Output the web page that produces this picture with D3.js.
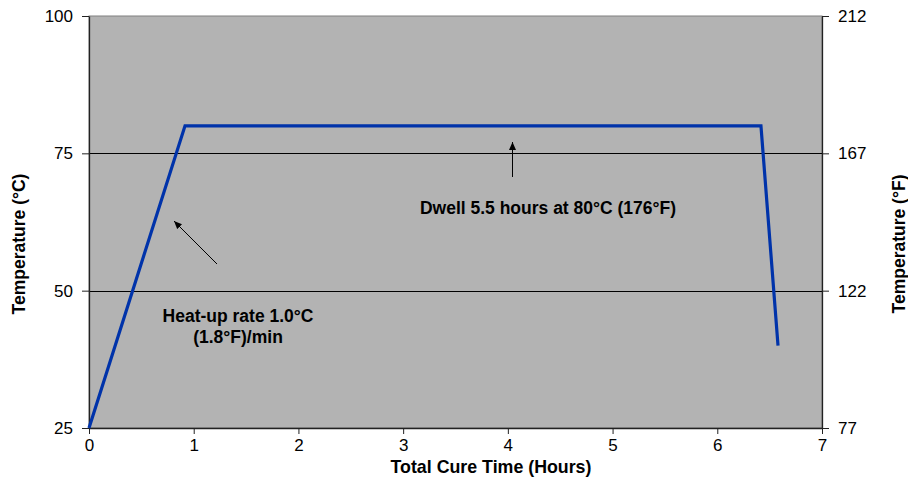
<!DOCTYPE html>
<html>
<head>
<meta charset="utf-8">
<script src="https://cdn.jsdelivr.net/npm/d3@7"></script>
<style>
  body { margin: 0; background: #fff; }
  svg { display: block; font-family: "Liberation Sans", Arial, sans-serif; }
</style>
</head>
<body>
<div id="chart"></div>
<script>
// cure profile: hours vs °C
const cureHours = [0, 0.917, 6.417, 6.58];
const cureTempC = [25, 80, 80, 40];
const xTicks = [0, 1, 2, 3, 4, 5, 6, 7];
const cTicks = [25, 50, 75, 100];
const fTicks = [77, 122, 167, 212];
const gridLines = [50, 75];

const width = 908, height = 477;
const margin = { top: 16, right: 86, bottom: 49, left: 89 };

const svg = d3.select("#chart").append("svg")
    .attr("width", width)
    .attr("height", height);

const x = d3.scaleLinear().domain([0, 7]).range([margin.left, width - margin.right]);
const y = d3.scaleLinear().domain([25, 100]).range([height - margin.bottom, margin.top]);
const yF = d3.scaleLinear().domain([77, 212]).range([height - margin.bottom, margin.top]);

// plot area
svg.append("rect")
    .attr("x", x(0))
    .attr("y", y(100))
    .attr("width", x(7) - x(0))
    .attr("height", y(25) - y(100))
    .attr("fill", "#b3b3b3")
    .attr("stroke", "#808080")
    .attr("stroke-width", 1);

// horizontal gridlines
svg.selectAll("line.grid")
    .data(gridLines)
    .enter().append("line")
    .attr("class", "grid")
    .attr("x1", x(0))
    .attr("x2", x(7))
    .attr("y1", d => Math.round(y(d)) + 0.5)
    .attr("y2", d => Math.round(y(d)) + 0.5)
    .attr("stroke", "#000")
    .attr("stroke-width", 1);

// axes
const styleAxis = g => {
    g.selectAll("path.domain").attr("stroke", "#222").attr("stroke-width", 1.3);
    g.selectAll(".tick line").attr("stroke", "#222");
    g.selectAll(".tick text")
        .attr("font-size", 17)
        .attr("fill", "#000")
        .attr("font-family", "Liberation Sans, Arial, sans-serif");
};

svg.append("g")
    .attr("transform", `translate(0,${y(25)})`)
    .call(d3.axisBottom(x).tickValues(xTicks).tickFormat(d3.format("d"))
        .tickSize(6).tickSizeOuter(0).tickPadding(5))
    .call(styleAxis);

svg.append("g")
    .attr("transform", `translate(${x(0)},0)`)
    .call(d3.axisLeft(y).tickValues(cTicks).tickSize(7).tickSizeOuter(0).tickPadding(9))
    .call(styleAxis);

svg.append("g")
    .attr("transform", `translate(${x(7)},0)`)
    .call(d3.axisRight(yF).tickValues(fTicks).tickSize(7).tickSizeOuter(0).tickPadding(9))
    .call(styleAxis);

// axis titles
svg.append("text")
    .attr("x", 491)
    .attr("y", 473)
    .attr("text-anchor", "middle")
    .attr("font-size", 17.8)
    .attr("font-weight", "bold")
    .text("Total Cure Time (Hours)");

svg.append("text")
    .attr("transform", `translate(25,244) rotate(-90)`)
    .attr("text-anchor", "middle")
    .attr("font-size", 17.5)
    .attr("font-weight", "bold")
    .text("Temperature (°C)");

svg.append("text")
    .attr("transform", `translate(905,244) rotate(-90)`)
    .attr("text-anchor", "middle")
    .attr("font-size", 17.5)
    .attr("font-weight", "bold")
    .text("Temperature (°F)");

// cure line
const line = d3.line()
    .x((d, i) => x(cureHours[i]))
    .y(d => y(d));

svg.append("path")
    .datum(cureTempC)
    .attr("d", line)
    .attr("fill", "none")
    .attr("stroke", "#0033aa")
    .attr("stroke-width", 3.2)
    .attr("stroke-linejoin", "miter");

// annotations
svg.append("defs").append("marker")
    .attr("id", "arrowhead")
    .attr("viewBox", "0 -4 8 8")
    .attr("refX", 8)
    .attr("refY", 0)
    .attr("markerWidth", 8)
    .attr("markerHeight", 8)
    .attr("markerUnits", "userSpaceOnUse")
    .attr("orient", "auto")
    .append("path")
    .attr("d", "M 0,-3.5 L 8,0 L 0,3.5 Z")
    .attr("fill", "#000");

svg.append("line")
    .attr("x1", 217).attr("y1", 264)
    .attr("x2", 174).attr("y2", 221)
    .attr("stroke", "#000")
    .attr("stroke-width", 1)
    .attr("marker-end", "url(#arrowhead)");

svg.append("line")
    .attr("x1", 512.5).attr("y1", 177)
    .attr("x2", 512.5).attr("y2", 142)
    .attr("stroke", "#000")
    .attr("stroke-width", 1)
    .attr("marker-end", "url(#arrowhead)");

svg.append("text")
    .attr("x", 238)
    .attr("y", 322)
    .attr("text-anchor", "middle")
    .attr("font-size", 17.5)
    .attr("font-weight", "bold")
    .text("Heat-up rate 1.0°C");

svg.append("text")
    .attr("x", 238)
    .attr("y", 343)
    .attr("text-anchor", "middle")
    .attr("font-size", 17.5)
    .attr("font-weight", "bold")
    .text("(1.8°F)/min");

svg.append("text")
    .attr("x", 548)
    .attr("y", 214)
    .attr("text-anchor", "middle")
    .attr("font-size", 17.5)
    .attr("font-weight", "bold")
    .text("Dwell 5.5 hours at 80°C (176°F)");
</script>
</body>
</html>
